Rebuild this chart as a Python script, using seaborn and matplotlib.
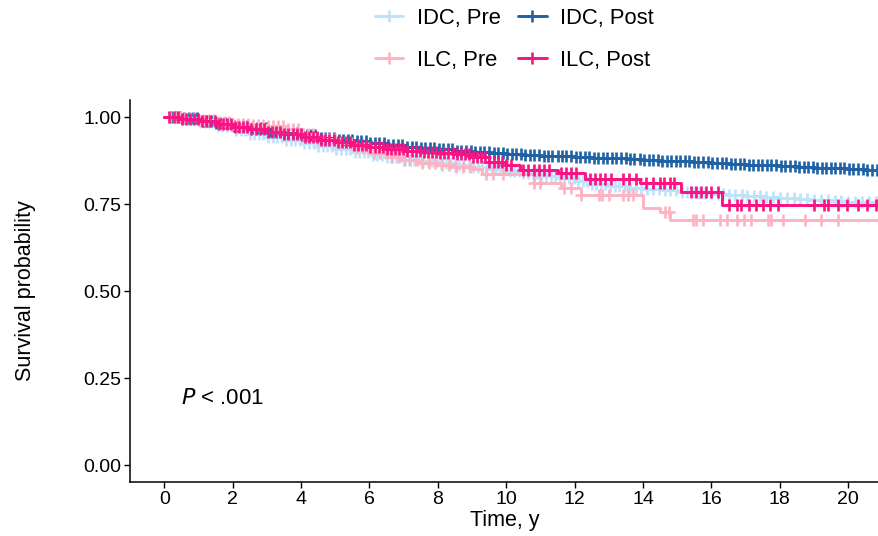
import numpy as np
import pandas as pd
import matplotlib
matplotlib.use('Agg')
import matplotlib.pyplot as plt
from matplotlib.lines import Line2D
import seaborn as sns

groups = ['IDC, Pre', 'IDC, Post', 'ILC, Pre', 'ILC, Post']
colors = ['#BDE2F9', '#1F62A6', '#FDB3C1', '#FA1383']

# KM step points
idc_pre_t = [0, 0.5, 1.0, 1.5, 2.0, 2.5, 3.0, 3.5, 4.0, 4.5, 5.0, 5.5, 6.0, 6.5, 7.0, 7.5, 8.0, 8.5, 9.0, 9.5, 10.0,
             10.5, 11.0, 11.5, 12.0, 12.5, 13.0, 13.5, 14.0, 14.5, 15.0, 15.5, 16.0, 16.5, 17.0, 17.5, 18.0, 18.5,
             19.0, 19.5, 20.0, 20.9]
idc_pre_s = [1.0, 0.995, 0.985, 0.975, 0.963, 0.952, 0.943, 0.935, 0.926, 0.916, 0.907, 0.899, 0.891, 0.884, 0.878,
             0.873, 0.868, 0.862, 0.856, 0.850, 0.845, 0.838, 0.831, 0.824, 0.816, 0.808, 0.801, 0.797, 0.794, 0.790,
             0.786, 0.783, 0.780, 0.777, 0.774, 0.771, 0.768, 0.764, 0.761, 0.758, 0.756, 0.756]
idc_post_t = [0, 0.5, 1.0, 1.5, 2.0, 2.5, 3.0, 3.5, 4.0, 4.5, 5.0, 5.5, 6.0, 6.5, 7.0, 7.5, 8.0, 8.5, 9.0, 9.5, 10.0,
              10.5, 11.0, 11.5, 12.0, 12.5, 13.0, 13.5, 14.0, 14.5, 15.0, 15.5, 16.0, 16.5, 17.0, 17.5, 18.0, 18.5,
              19.0, 19.5, 20.0, 20.5, 20.9]
idc_post_s = [1.0, 0.997, 0.990, 0.983, 0.975, 0.968, 0.961, 0.954, 0.948, 0.941, 0.935, 0.930, 0.925, 0.920, 0.915,
              0.911, 0.907, 0.903, 0.900, 0.897, 0.894, 0.891, 0.889, 0.887, 0.885, 0.883, 0.881, 0.879, 0.877, 0.875,
              0.873, 0.870, 0.868, 0.865, 0.863, 0.861, 0.859, 0.857, 0.855, 0.853, 0.851, 0.849, 0.848]
ilc_pre_t = [0, 0.5, 1.0, 1.5, 2.0, 2.5, 3.0, 3.5, 4.0, 4.5, 5.0, 5.5, 6.0, 6.5, 7.0, 7.5, 8.0, 8.5, 9.0, 9.3, 10.8,
             11.6, 12.2, 14.0, 14.5, 14.8, 20.9]
ilc_pre_s = [1.0, 0.996, 0.991, 0.986, 0.981, 0.978, 0.975, 0.967, 0.950, 0.937, 0.925, 0.912, 0.898, 0.886, 0.876,
             0.868, 0.862, 0.857, 0.852, 0.835, 0.810, 0.796, 0.776, 0.738, 0.727, 0.705, 0.705]
ilc_post_t = [0, 0.5, 1.0, 1.5, 2.0, 2.5, 3.0, 3.5, 4.0, 4.5, 5.0, 5.5, 6.0, 6.5, 7.0, 7.5, 8.0, 8.5, 9.0, 9.5, 10.0,
              10.4, 11.5, 12.3, 13.9, 15.1, 16.3, 20.9]
ilc_post_s = [1.0, 0.995, 0.988, 0.980, 0.972, 0.965, 0.958, 0.950, 0.942, 0.935, 0.927, 0.920, 0.913, 0.908, 0.903,
              0.900, 0.898, 0.895, 0.885, 0.872, 0.862, 0.848, 0.839, 0.823, 0.810, 0.786, 0.747, 0.747]

# censoring times
idc_post_c = [0.21, 0.34, 0.47, 0.58, 0.72, 0.85, 0.97, 1.12, 1.24, 1.38, 1.51, 1.63, 1.77, 1.9, 2.04, 2.16, 2.31,
              2.43, 2.57, 2.7, 2.84, 2.96, 3.1, 3.23, 3.37, 3.5, 3.62, 3.77, 3.89, 4.03, 4.16, 4.3, 4.42, 4.57, 4.69,
              4.83, 4.96, 5.1, 5.22, 5.36, 5.49, 5.63, 5.76, 5.9, 6.02, 6.16, 6.29, 6.43, 6.55, 6.7, 6.82, 6.96, 7.09,
              7.23, 7.35, 7.5, 7.62, 7.76, 7.89, 8.03, 8.15, 8.3, 8.42, 8.56, 8.69, 8.83, 8.96, 9.1, 9.22, 9.36, 9.49,
              9.63, 9.75, 9.9, 10.02, 10.16, 10.29, 10.43, 10.55, 10.7, 10.82, 10.96, 11.09, 11.23, 11.35, 11.5,
              11.62, 11.76, 11.89, 12.03, 12.15, 12.3, 12.42, 12.56, 12.69, 12.83, 12.96, 13.1, 13.22, 13.36, 13.49,
              13.63, 13.75, 13.9, 14.02, 14.16, 14.29, 14.43, 14.55, 14.7, 14.82, 14.96, 15.09, 15.23, 15.35, 15.5,
              15.62, 15.76, 15.89, 16.03, 16.15, 16.3, 16.42, 16.56, 16.69, 16.83, 16.96, 17.1, 17.22, 17.36, 17.49,
              17.63, 17.75, 17.9, 18.02, 18.16, 18.29, 18.43, 18.55, 18.7, 18.82, 18.96, 19.09, 19.23, 19.35, 19.5,
              19.62, 19.76, 19.89, 20.03, 20.15, 20.3, 20.42, 20.56, 20.69, 20.83]
idc_pre_c = [0.27, 0.39, 0.52, 0.66, 0.78, 0.91, 1.05, 1.18, 1.3, 1.44, 1.57, 1.7, 1.83, 1.97, 2.1, 2.23, 2.37, 2.5,
             2.63, 2.77, 2.9, 3.03, 3.17, 3.3, 3.43, 3.57, 3.7, 3.83, 3.97, 4.1, 4.23, 4.37, 4.5, 4.63, 4.77, 4.9,
             5.03, 5.17, 5.3, 5.43, 5.57, 5.7, 5.83, 5.97, 6.1, 6.23, 6.37, 6.5, 6.63, 6.77, 6.9, 7.03, 7.17, 7.3,
             7.43, 7.57, 7.7, 7.83, 7.97, 8.1, 8.23, 8.37, 8.5, 8.63, 8.77, 8.9, 9.03, 9.17, 9.3, 9.43, 9.57, 9.7,
             9.83, 9.97, 10.1, 10.23, 10.37, 10.5, 10.63, 10.77, 10.9, 11.03, 11.17, 11.3, 11.43, 11.57, 11.7, 11.83,
             11.97, 12.1, 12.23, 12.37, 12.5, 12.63, 12.77, 12.9, 13.03, 13.17, 13.3, 13.46, 13.62, 13.8, 13.95,
             14.12, 14.3, 14.46, 14.63, 14.8, 14.97, 15.14, 15.3, 15.48, 15.65, 15.82, 16.0, 16.18, 16.35, 16.52,
             16.7, 16.88, 17.05, 17.24, 17.42, 17.6, 17.8, 18.0, 18.2, 18.4, 18.6, 18.8, 19.0, 19.2, 19.4, 19.6,
             19.8, 20.0, 20.2, 20.4, 20.6, 20.8]
ilc_pre_c = [0.18, 0.32, 0.45, 0.6, 0.74, 0.88, 1.02, 1.16, 1.3, 1.45, 1.6, 1.74, 1.88, 2.02, 2.17, 2.31, 2.46, 2.6,
             2.74, 2.89, 3.03, 3.18, 3.32, 3.47, 3.61, 3.76, 3.9, 4.05, 4.2, 4.35, 4.5, 4.66, 4.82, 4.98, 5.14, 5.3,
             5.47, 5.64, 5.8, 5.97, 6.14, 6.31, 6.48, 6.66, 6.83, 7.01, 7.19, 7.37, 7.55, 7.74, 7.93, 8.12, 8.32,
             8.52, 8.73, 8.95, 9.4, 9.6, 9.9, 10.8, 11.0, 11.7, 11.9, 12.2, 12.7, 12.8, 13.0, 13.4, 13.55, 13.7,
             14.65, 14.75, 15.45, 15.55, 15.75, 16.25, 16.45, 16.75, 16.95, 17.15, 17.65, 17.75, 18.1, 18.75, 19.2,
             19.7]
ilc_post_c = [0.15, 0.27, 0.39, 0.51, 0.63, 0.75, 0.87, 0.99, 1.11, 1.23, 1.35, 1.47, 1.59, 1.71, 1.83, 1.95, 2.07,
              2.19, 2.31, 2.43, 2.55, 2.67, 2.79, 2.91, 3.03, 3.15, 3.27, 3.39, 3.51, 3.63, 3.75, 3.87, 3.99, 4.11,
              4.23, 4.35, 4.47, 4.59, 4.71, 4.83, 4.95, 5.07, 5.19, 5.31, 5.43, 5.55, 5.67, 5.79, 5.91, 6.03, 6.15,
              6.27, 6.39, 6.51, 6.63, 6.75, 6.87, 6.99, 7.11, 7.23, 7.35, 7.47, 7.59, 7.71, 7.83, 7.95, 8.07, 8.19,
              8.31, 8.43, 8.55, 8.67, 8.79, 8.91, 9.03, 9.15, 9.27, 9.39, 9.51, 9.63, 9.75, 9.87, 10.0, 10.15, 10.5,
              10.65, 10.8, 10.95, 11.1, 11.25, 11.6, 11.75, 11.9, 12.05, 12.45, 12.6, 12.75, 12.9, 13.05, 13.4, 13.6,
              13.8, 14.1, 14.3, 14.5, 14.6, 14.8, 14.9, 15.4, 15.55, 15.7, 15.85, 16.0, 16.2, 16.5, 16.75, 16.85,
              17.1, 17.3, 17.5, 17.7, 17.95, 19.0, 19.3, 19.4, 19.7, 19.97, 20.3, 20.55, 20.8]

curves = [(idc_pre_t, idc_pre_s, idc_pre_c), (idc_post_t, idc_post_s, idc_post_c),
          (ilc_pre_t, ilc_pre_s, ilc_pre_c), (ilc_post_t, ilc_post_s, ilc_post_c)]

steps = []
marks = []
for g, (t, s, c) in zip(groups, curves):
    steps.append(pd.DataFrame({'time': t, 'surv': s, 'grp': g}))
    t = np.array(t); s = np.array(s); c = np.array(c)
    idx = np.searchsorted(t, c, side = 'right') - 1
    marks.append(pd.DataFrame({'time': c, 'surv': s[idx], 'grp': g}))
steps = pd.concat(steps, ignore_index = True)
marks = pd.concat(marks, ignore_index = True)

sns.set_theme(style = 'ticks')
plt.rcParams['font.family'] = ['Liberation Sans', 'DejaVu Sans']
plt.rcParams['text.color'] = 'black'

fig = plt.figure(figsize = (8.79, 5.36), dpi = 100)
ax = fig.add_axes([0.148, 0.1, 0.852, 0.714])
pal = dict(zip(groups, colors))
lw = 2.1; ms = 9; mew = 1.9
for g in groups:
    sns.lineplot(data = steps[steps.grp == g], x = 'time', y = 'surv', color = pal[g], drawstyle = 'steps-post',
                 estimator = None, linewidth = lw, ax = ax)
    m = marks[marks.grp == g]
    ax.plot(m['time'], m['surv'], linestyle = 'none', marker = '+', markersize = ms, markeredgewidth = mew,
            color = pal[g])

ax.set_xlim(-1.0, 20.9)
ax.set_ylim(-0.05, 1.05)
ax.set_xticks(range(0, 21, 2))
ax.set_yticks([0, 0.25, 0.5, 0.75, 1.0])
ax.set_yticklabels(['0.00', '0.25', '0.50', '0.75', '1.00'])
ax.set_xlabel('Time, y', fontsize = 15.5, color = 'black', labelpad = 1)
ax.set_ylabel('Survival probability', fontsize = 15.5, color = 'black', labelpad = 34)
ax.tick_params(labelsize = 14, colors = 'black', length = 4, width = 1, pad = 2.5)
for sp in ['left', 'bottom']:
    ax.spines[sp].set_color('black'); ax.spines[sp].set_linewidth(1.1)
sns.despine(ax = ax)
ax.text(0.5, 0.19, '$P$ < .001', fontsize = 16, va = 'center', ha = 'left', color = 'black')

order = [0, 2, 1, 3]
handles = [Line2D([], [], color = colors[i], linewidth = lw, marker = '+', markersize = ms, markeredgewidth = mew)
           for i in order]
fig.legend(handles, [groups[i] for i in order], ncol = 2, loc = 'upper center', bbox_to_anchor = (0.585, 1.022),
           frameon = False, fontsize = 15.8, handlelength = 1.3, handletextpad = 0.6, columnspacing = 0.8,
           labelspacing = 0.95)

plt.savefig('out.png', dpi = 100)
plt.close()
